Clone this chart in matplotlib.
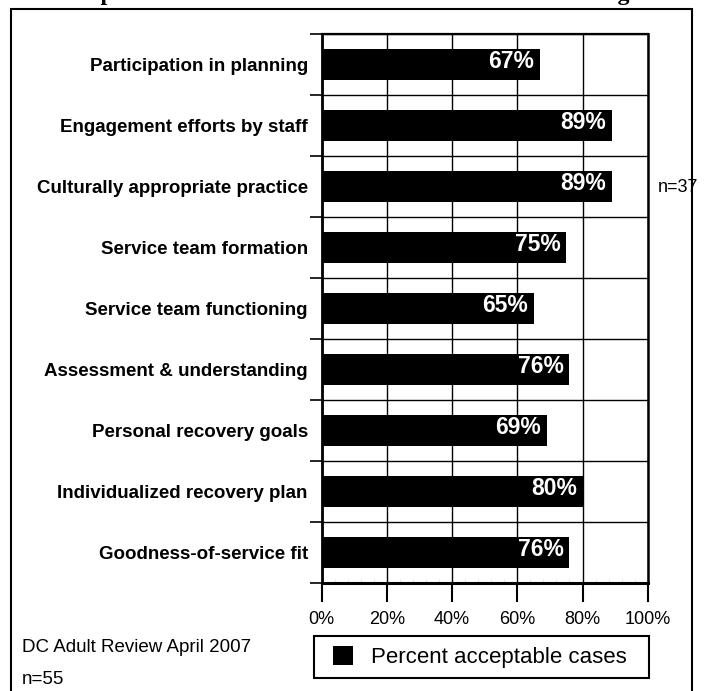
import matplotlib
matplotlib.use("Agg")
import matplotlib.pyplot as plt
from matplotlib.patches import Rectangle
from matplotlib.ticker import FixedLocator, MultipleLocator

categorias = [
    "Participation in planning",
    "Engagement efforts by staff",
    "Culturally appropriate practice",
    "Service team formation",
    "Service team functioning",
    "Assessment & understanding",
    "Personal recovery goals",
    "Individualized recovery plan",
    "Goodness-of-service fit",
]
percentuais = [67, 89, 89, 75, 65, 76, 69, 80, 76]
ticks_x = [0, 20, 40, 60, 80, 100]
rotulos_x = ["0%", "20%", "40%", "60%", "80%", "100%"]

plt.rcParams["font.family"] = ["Liberation Sans", "DejaVu Sans"]

W, H = 704, 691
figura = plt.figure(figsize=(W / 100, H / 100), dpi=100)

# titulo (so as pernas das letras aparecem no topo)
figura.text(59 / W, 1.0, "Graph 2: Practice Performance Indicators for Planning",
            family="Liberation Serif", weight="bold", fontsize=17.3,
            ha="left", va="baseline")

# moldura externa
figura.add_artist(Rectangle((11 / W, -0.05), (692 - 11) / W, 1.05 - 9 / H,
                            transform=figura.transFigure, fill=False,
                            lw=1.5, ec="black", clip_on=False))

esq, dir_, topo, base = 321.7, 647.7, 34, 583
ax = figura.add_axes([esq / W, 1 - base / H, (dir_ - esq) / W, (base - topo) / H])

n = len(categorias)
pos = list(range(n))
ax.barh(pos, percentuais, height=0.52, color="black", label="Percent acceptable cases", zorder=3)

for y, v in zip(pos, percentuais):
    ax.text(v - 1.8, y - 0.05, f"{v}%", color="white", weight="bold", fontsize=16.5,
            ha="right", va="center", zorder=4)

ax.set_xlim(0, 100)
ax.set_ylim(n - 0.5, -0.5)

# linhas de grade nas divisas das categorias
ax.yaxis.set_major_locator(FixedLocator([i - 0.5 for i in range(n + 1)]))
ax.yaxis.set_minor_locator(FixedLocator(pos))
ax.set_yticklabels([], minor=False)
ax.set_yticklabels(categorias, minor=True, weight="bold", fontsize=13.5)
ax.tick_params(axis="y", which="major", direction="out", length=9, width=1.2, color="black")
ax.tick_params(axis="y", which="minor", length=0, pad=10)

ax.set_xticks(ticks_x)
ax.set_xticklabels(rotulos_x, fontsize=13)
ax.xaxis.set_minor_locator(MultipleLocator(4))
ax.tick_params(axis="x", which="major", direction="out", length=14, width=1.5, pad=6)
ax.tick_params(axis="x", which="minor", direction="in", length=3, width=0.6, color="#e0e0e0")

ax.grid(True, which="major", color="black", lw=1.0, zorder=1)

for lado, lw in (("left", 2), ("bottom", 2.2), ("top", 1.6), ("right", 1.8)):
    ax.spines[lado].set_linewidth(lw)
    ax.spines[lado].set_zorder(5)

figura.text(658 / W, 1 - 188 / H, "n=37", fontsize=13, ha="left", va="center")
figura.text(22 / W, 1 - 648 / H, "DC Adult Review April 2007", fontsize=13.5, ha="left", va="center")
figura.text(22 / W, 1 - 679 / H, "n=55", fontsize=13.5, ha="left", va="center")

# legenda com caixa propria
figura.add_artist(Rectangle((314 / W, 1 - 678 / H), (649 - 314) / W, 42 / H,
                            transform=figura.transFigure, fill=False,
                            lw=1.5, ec="black"))
figura.legend(loc="center left", bbox_to_anchor=(333 / W, 1 - 657 / H), fontsize=16,
              frameon=False, handlelength=0.9, handleheight=0.9,
              borderpad=0, handletextpad=0.8, borderaxespad=0)

figura.savefig("out.png", dpi=100)
